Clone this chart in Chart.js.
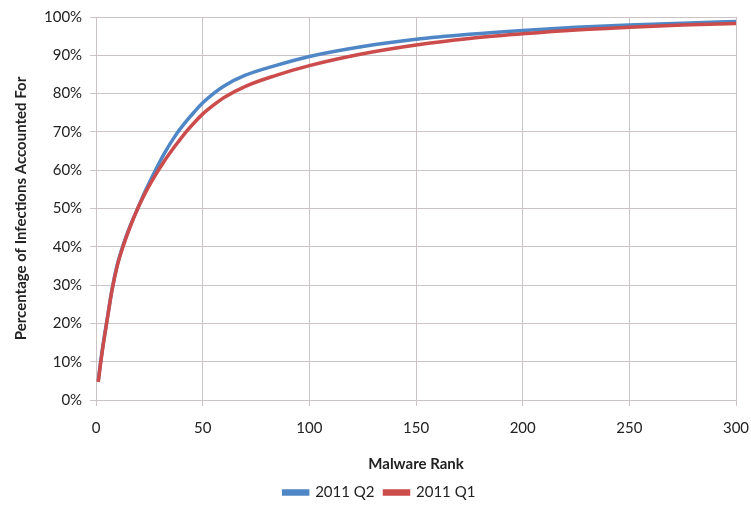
<!DOCTYPE html>
<html>
<head>
<meta charset="utf-8">
<script src="https://cdn.jsdelivr.net/npm/chart.js@4"></script>
<style>
  html, body { margin: 0; padding: 0; background: #fff; }
  #wrap { width: 751px; height: 510px; }
</style>
</head>
<body>
<div id="wrap"><canvas id="chart"></canvas></div>
<script>
const ranks = [1, 2, 3, 5, 7.5, 10, 13, 16, 19.5, 23, 28, 32, 37, 42, 46, 50, 55, 60, 70, 84, 100, 125, 150, 175, 200, 225, 250, 275, 300];
const q2 = [5, 9.5, 13.5, 20.5, 29, 35.5, 41, 45.5, 50, 54.5, 60.2, 64.4, 68.9, 72.6, 75.2, 77.6, 80, 82, 84.8, 87.3, 89.7, 92.3, 94.2, 95.5, 96.5, 97.3, 97.9, 98.4, 98.8];
const q1 = [4.7, 9.2, 13.2, 20.3, 28.8, 35.2, 40.7, 45.3, 50, 54, 58.9, 62.4, 66.3, 69.9, 72.4, 74.7, 77, 79, 81.9, 84.7, 87.3, 90.4, 92.7, 94.4, 95.6, 96.6, 97.3, 97.9, 98.3];

const toPoints = (vals) => ranks.map((r, i) => ({ x: r, y: vals[i] }));

const printChart = () => {
  const ctx = document.getElementById("chart");
  const font = { family: "Lato", size: 15 };
  const grid = "#ccc4c4";

  const config = {
    type: "line",
    data: {
      datasets: [
        {
          label: "2011 Q2",
          data: toPoints(q2),
          borderColor: "#4f86c6",
          backgroundColor: "#4f86c6",
          borderWidth: 3.5,
          pointRadius: 0,
          cubicInterpolationMode: "monotone",
          order: 1,
        },
        {
          label: "2011 Q1",
          data: toPoints(q1),
          borderColor: "#cc4b4b",
          backgroundColor: "#cc4b4b",
          borderWidth: 3.5,
          pointRadius: 0,
          cubicInterpolationMode: "monotone",
          order: 0,
        },
      ],
    },
    options: {
      responsive: true,
      maintainAspectRatio: false,
      animation: false,
      layout: { padding: { top: 5, right: 0, left: 8, bottom: 0 } },
      plugins: {
        tooltip: { enabled: false },
        legend: {
          position: "bottom",
          labels: {
            boxWidth: 24,
            boxHeight: 3,
            padding: 10,
            color: "#222",
            font: font,
            sort: (a, b) => a.datasetIndex - b.datasetIndex,
          },
        },
      },
      scales: {
        x: {
          type: "linear",
          min: 0,
          max: 300,
          ticks: { stepSize: 50, color: "#222", font: font, padding: 13 },
          grid: { color: grid, tickLength: 6 },
          border: { color: grid },
          title: {
            display: true,
            text: "Malware Rank",
            color: "#222",
            font: { family: "Lato", size: 15, weight: "bold" },
            padding: { top: 5, bottom: 2 },
          },
          afterFit: (scale) => {
            scale.paddingRight = 15;
          },
        },
        y: {
          min: 0,
          max: 100,
          ticks: {
            stepSize: 10,
            color: "#222",
            font: font,
            padding: 8,
            callback: (v) => v + "%",
          },
          grid: { color: grid, tickLength: 6 },
          border: { color: grid },
          title: {
            display: true,
            text: "Percentage of Infections Accounted For",
            color: "#222",
            font: { family: "Lato", size: 15, weight: "bold" },
            padding: { bottom: 6 },
          },
        },
      },
    },
  };

  new Chart(ctx, config);
};

printChart();
</script>
</body>
</html>
